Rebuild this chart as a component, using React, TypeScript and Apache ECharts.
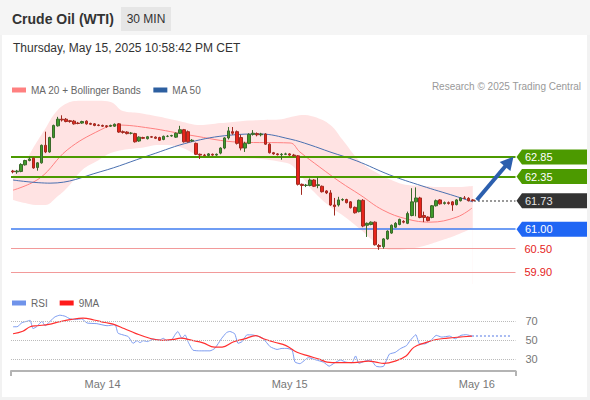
import React, { useEffect, useRef } from 'react';
import * as echarts from 'echarts';

const FONT = "'Liberation Sans', Arial, Helvetica, sans-serif";

// ---- texts ----
const chartTitle = 'Crude Oil (WTI)';
const timeframe = '30 MIN';
const timestamp = 'Thursday, May 15, 2025 10:58:42 PM CET';
const credit = 'Research \u00A9 2025 Trading Central';

// ---- x axis (30 min bars) ----
const categoryCount = 124;
const xTickLabels: Record<number, string> = { 22: 'May 14', 68: 'May 15', 114: 'May 16' };

// ---- candles: [open, close, low, high] ----
const candles: number[][] = [
  [62.49, 62.47, 62.43, 62.52], [62.47, 62.49, 62.42, 62.52], [62.48, 62.66, 62.46, 62.69], [62.65, 62.76, 62.63, 62.78],
  [62.76, 62.80, 62.74, 62.85], [62.82, 62.57, 62.55, 62.84], [62.58, 62.70, 62.50, 62.72], [62.70, 63.15, 62.68, 63.17],
  [63.15, 62.98, 62.95, 63.50], [62.98, 63.35, 62.96, 63.37], [63.35, 63.66, 63.33, 63.68], [63.65, 63.82, 63.63, 63.88],
  [63.82, 63.80, 63.76, 63.92], [63.82, 63.76, 63.74, 63.85], [63.78, 63.76, 63.73, 63.80], [63.77, 63.70, 63.68, 63.80],
  [63.72, 63.71, 63.69, 63.75], [63.72, 63.76, 63.70, 63.78], [63.77, 63.70, 63.68, 63.79], [63.71, 63.69, 63.67, 63.73],
  [63.70, 63.66, 63.64, 63.72], [63.67, 63.66, 63.64, 63.69], [63.66, 63.64, 63.62, 63.68], [63.65, 63.63, 63.60, 63.67],
  [63.64, 63.66, 63.62, 63.68], [63.64, 63.69, 63.62, 63.71], [63.70, 63.49, 63.47, 63.72], [63.50, 63.48, 63.45, 63.53],
  [63.49, 63.45, 63.43, 63.51], [63.46, 63.46, 63.43, 63.49], [63.45, 63.24, 63.22, 63.47], [63.26, 63.36, 63.24, 63.38],
  [63.35, 63.33, 63.31, 63.37], [63.32, 63.37, 63.30, 63.39], [63.37, 63.36, 63.34, 63.39], [63.36, 63.33, 63.31, 63.38],
  [63.35, 63.28, 63.26, 63.37], [63.30, 63.38, 63.28, 63.40], [63.38, 63.38, 63.36, 63.41], [63.39, 63.40, 63.37, 63.42],
  [63.36, 63.46, 63.34, 63.48], [63.46, 63.55, 63.44, 63.65], [63.55, 63.24, 63.22, 63.57], [63.50, 63.24, 63.22, 63.53],
  [63.26, 63.28, 63.24, 63.31], [63.20, 62.92, 62.90, 63.22], [62.92, 62.90, 62.80, 62.94], [62.90, 62.89, 62.87, 62.93],
  [62.89, 62.93, 62.87, 62.95], [62.92, 62.90, 62.88, 62.94], [62.90, 62.92, 62.88, 62.94], [62.95, 63.08, 62.92, 63.10],
  [63.08, 63.34, 63.05, 63.36], [63.34, 63.52, 63.30, 63.62], [63.50, 63.46, 63.42, 63.62], [63.50, 63.20, 63.17, 63.53],
  [63.35, 63.08, 63.02, 63.42], [63.08, 63.20, 62.98, 63.24], [63.20, 63.43, 63.18, 63.46], [63.43, 63.46, 63.40, 63.54],
  [63.45, 63.42, 63.38, 63.48], [63.42, 63.44, 63.38, 63.47], [63.44, 63.18, 63.16, 63.46], [63.18, 62.96, 62.94, 63.20],
  [62.96, 62.93, 62.91, 62.98], [62.93, 62.91, 62.89, 62.95], [62.91, 62.92, 62.78, 62.95], [62.92, 62.93, 62.90, 62.96],
  [62.93, 62.90, 62.88, 62.95], [62.90, 62.88, 62.85, 62.93], [62.88, 62.15, 62.12, 62.90], [62.15, 62.12, 61.88, 62.17],
  [62.12, 62.13, 62.08, 62.16], [62.12, 62.26, 62.10, 62.30], [62.26, 62.10, 62.08, 62.28], [62.12, 62.14, 62.05, 62.33],
  [62.10, 61.96, 61.94, 62.12], [61.98, 61.93, 61.90, 62.00], [61.93, 61.62, 61.60, 62.00], [61.62, 61.58, 61.35, 61.80],
  [61.62, 61.75, 61.58, 61.83], [61.75, 61.76, 61.72, 61.79], [61.76, 61.68, 61.66, 61.78], [61.70, 61.55, 61.53, 61.72],
  [61.56, 61.42, 61.40, 61.58], [61.45, 61.74, 61.43, 61.76], [61.74, 61.08, 61.05, 61.77], [61.10, 61.15, 60.80, 61.17],
  [61.12, 61.18, 61.10, 61.20], [61.18, 60.60, 60.58, 61.20], [60.58, 60.55, 60.47, 60.62], [60.55, 60.75, 60.50, 60.77],
  [60.75, 60.95, 60.73, 60.97], [60.90, 61.10, 60.88, 61.12], [61.05, 61.15, 61.03, 61.18], [61.12, 61.25, 61.10, 61.27],
  [61.20, 61.18, 61.15, 61.23], [61.15, 61.40, 61.13, 61.45], [61.35, 61.70, 61.33, 62.05], [61.70, 61.80, 61.33, 62.07],
  [61.80, 61.30, 61.28, 61.83], [61.35, 61.30, 61.18, 61.45], [61.31, 61.22, 61.20, 61.33], [61.30, 61.60, 61.28, 61.62],
  [61.60, 61.73, 61.58, 61.76], [61.75, 61.65, 61.63, 61.77], [61.66, 61.68, 61.63, 61.71], [61.68, 61.66, 61.63, 61.71],
  [61.70, 61.62, 61.47, 61.72], [61.63, 61.75, 61.61, 61.77], [61.73, 61.80, 61.71, 61.82], [61.80, 61.79, 61.77, 61.85],
  [61.79, 61.73, 61.71, 61.82], [61.75, 61.73, 61.71, 61.77],
];

// ---- overlays: [bar index, price] ----
const ma20: number[][] = [
  [0, 62.0], [6.6, 62.31], [13.3, 63.03], [21.4, 63.54], [25.6, 63.67], [33.7, 63.59], [43.5, 63.41],
  [55.8, 63.23], [68.1, 63.21], [70.5, 62.98], [75.4, 62.59], [80.4, 62.21], [85.3, 61.88], [90.9, 61.49],
  [96.8, 61.26], [102.5, 61.18], [109.1, 61.31], [112.8, 61.54],
];
const ma50: number[][] = [
  [0, 62.26], [9.1, 62.18], [21.4, 62.47], [33.7, 62.9], [43.5, 63.23], [53.3, 63.41], [60.7, 63.44],
  [68.1, 63.31], [73.0, 63.16], [77.9, 62.98], [84.5, 62.75], [92.6, 62.39], [100.5, 62.11], [108.6, 61.85], [113, 61.7],
];
const bbX = [0, 3, 5.5, 8, 10.5, 13.3, 17, 21, 24, 27, 31, 36, 41, 46, 51, 56, 61, 66, 68.5, 71, 74, 78, 81, 85, 89, 93, 97, 101, 105, 109, 113];
const bbUpper = [62.39, 62.75, 63.18, 63.59, 64.0, 64.23, 64.29, 64.29, 64.26, 64.03, 63.98, 63.88, 63.77, 63.67, 63.72, 63.77, 63.8, 63.82, 63.88, 63.93, 63.88, 63.67, 63.29, 62.77, 62.47, 62.26, 62.13, 62.11, 62.08, 62.08, 62.11];
const bbLower = [61.75, 61.67, 61.62, 61.62, 61.8, 62.06, 62.52, 62.77, 62.95, 63.03, 63.08, 63.16, 63.11, 62.88, 62.83, 62.82, 62.8, 62.72, 62.64, 62.34, 61.95, 61.57, 61.36, 61.03, 60.67, 60.47, 60.49, 60.57, 60.7, 60.85, 61.03];

// ---- key levels ----
const badgeLevels = [62.85, 62.35, 61.73, 61.0];
const badgeColors = ['#4c9a00', '#4c9a00', '#333333', '#1f66f4'];
const badgeTextColors = ['#ffffff', '#ffffff', '#e6e6e6', '#ffffff'];
const resistanceLines = [62.85, 62.35];
const supportLine = 61.0;
const redLevels = [60.5, 59.9];
const pivotLevel = 61.73;
const pivotFrom = 113.3;
const arrowPath = [114, 61.75, 123, 62.86];

// ---- RSI panel: [bar index, value] ----
const rsi: number[][] = [
  [0, 64], [1, 64], [2.2, 68.4], [3.4, 69.8], [4.2, 70.9], [4.9, 62], [5.9, 64.4], [7.1, 69.8], [7.9, 65],
  [9.1, 69.8], [10.3, 74.5], [11.5, 76.3], [12.8, 75.2], [14, 72.4], [15.2, 71.6], [16.9, 72.4], [18.2, 68],
  [20.6, 67.3], [23.1, 65.1], [25.1, 66.2], [25.8, 57.2], [28.3, 53.6], [29.5, 46.4], [30.5, 49.2], [31.2, 47.1],
  [32, 49.2], [33, 48.2], [34.4, 50.8], [36.1, 50], [36.9, 51.8], [37.8, 49.2], [39.1, 50.8], [39.8, 55.4],
  [40.5, 59], [41.5, 51.8], [42.3, 55.4], [43, 48.2], [44.2, 39.2], [45.9, 38.4], [48.4, 38.4], [49.6, 41],
  [51.3, 51.8], [52.5, 57.9], [53.3, 59], [54.5, 56.5], [55.3, 46.4], [56.3, 48.2], [57.5, 55.4], [58.7, 55.4],
  [59.9, 54.3], [61.4, 51.8], [63.2, 42.8], [64.9, 39.9], [66.1, 41], [67.3, 41], [68.6, 39.2], [69.3, 26.5],
  [70.5, 24.8], [72.6, 31.2], [74.5, 28.7], [76.3, 26.4], [77.7, 22.1], [79.1, 25.8], [80.5, 28.7], [81.8, 26.4],
  [83.3, 25.8], [84.2, 33], [85, 25.1], [86.5, 27.5], [87.9, 28.7], [89.2, 22.1], [90.2, 21.4], [91.1, 22.1],
  [92.5, 34.9], [93.9, 36.7], [95.3, 41], [96.7, 43.9], [97.6, 49.4], [99, 55.6], [99.9, 45.8], [101.2, 45.8],
  [102.7, 49.4], [104, 54.9], [105.4, 53], [107.3, 54.1], [108.7, 51.2], [110.1, 54.9], [111.4, 55.6], [112.8, 54.1],
];
const rsiMA: number[][] = [
  [0, 56.6], [2.4, 59.2], [4.2, 64], [6, 65.1], [8.8, 66.5], [11.5, 69.4], [14.4, 71.9], [17.2, 73.2], [19.9, 71.2],
  [22.6, 68.5], [24.6, 66.8], [27.3, 62.1], [30.1, 57], [33.8, 51.5], [36.6, 49.6], [39.3, 50.5], [41.2, 51.9],
  [44, 49.5], [46.7, 46.9], [49.5, 42.3], [51.4, 42.4], [54.1, 47.8], [56.9, 51.2], [59.7, 54.6], [61.4, 51.5],
  [64.3, 47.6], [67.1, 44], [69.8, 37], [72.6, 33], [75.4, 29.4], [77.2, 26.4], [80, 25.8], [83.7, 25.8],
  [87.4, 27.5], [89.2, 26.4], [91.1, 25.1], [93.9, 27.5], [96.6, 33], [98.5, 42.1], [101.2, 46.9], [104, 50.5],
  [106.8, 51.9], [109.6, 53], [112.8, 54.1],
];
const rsiLevels = [70, 50, 30];
const rsiProjection = [112.8, 122.6, 54.1];

export default function App() {
  const ref = useRef<HTMLDivElement>(null);

  useEffect(() => {
    document.body.style.margin = '0';
    const chart = echarts.init(ref.current!, undefined, { renderer: 'svg' });

    const categories = Array.from({ length: categoryCount }, (_, i) => xTickLabels[i] || String(i));
    const gridLeft = 11;
    const gridRight = 74.5;
    const xMin = -0.5;
    const xMax = categoryCount - 0.5;

    const option: any = {
      animation: false,
      backgroundColor: '#f2f2f2',
      textStyle: { fontFamily: FONT },
      graphic: [
        { type: 'rect', z: -10, shape: { x: 2, y: 35, width: 585, height: 362 }, style: { fill: '#ffffff' } },
        { type: 'rect', z: -10, shape: { x: 0, y: 0, width: 590, height: 35 }, style: { fill: '#f5f5f5' } },
        { type: 'rect', z: -9, shape: { x: 121, y: 7, width: 50, height: 24 }, style: { fill: '#e6e6e6' } },
        { type: 'text', x: 12, y: 19, style: { text: chartTitle, fill: '#333', font: `bold 14px ${FONT}`, align: 'left', verticalAlign: 'middle', textAlign: 'left', textVerticalAlign: 'middle' } },
        { type: 'text', x: 146, y: 19, style: { text: timeframe, fill: '#333', font: `12px ${FONT}`, align: 'center', verticalAlign: 'middle', textAlign: 'center', textVerticalAlign: 'middle' } },
        { type: 'text', x: 13, y: 48, style: { text: timestamp, fill: '#333', font: `12px ${FONT}`, align: 'left', verticalAlign: 'middle', textAlign: 'left', textVerticalAlign: 'middle' } },
        { type: 'text', x: 581, y: 86, style: { text: credit, fill: '#999', font: `10px ${FONT}`, align: 'right', verticalAlign: 'middle', textAlign: 'right', textVerticalAlign: 'middle' } },
      ],
      legend: [
        {
          data: ['MA 20 + Bollinger Bands', 'MA 50'], left: 7, top: 80, icon: 'rect', itemWidth: 14, itemHeight: 5,
          itemGap: 12, selectedMode: false, textStyle: { fontSize: 10, color: '#666', fontFamily: FONT },
        },
        {
          data: ['RSI', '9MA'], left: 7, top: 293, icon: 'rect', itemWidth: 14, itemHeight: 5,
          itemGap: 12, selectedMode: false, textStyle: { fontSize: 10, color: '#666', fontFamily: FONT },
        },
      ],
      grid: [
        { left: gridLeft, right: gridRight, top: 100, height: 184 },
        { left: gridLeft, right: gridRight, top: 307, height: 64 },
      ],
      xAxis: [
        { type: 'category', gridIndex: 0, data: categories, show: false },
        { type: 'value', gridIndex: 0, min: xMin, max: xMax, show: false },
        {
          type: 'category', gridIndex: 1, data: categories, boundaryGap: true,
          axisLine: { show: true, lineStyle: { color: '#b4b4b4', width: 2 } },
          axisTick: { show: true, interval: (i: number) => i === 0, length: 5, lineStyle: { color: '#b4b4b4', width: 2 } },
          axisLabel: {
            interval: (i: number) => xTickLabels[i] !== undefined,
            formatter: (v: string) => v, color: '#777', fontSize: 11, margin: 7, fontFamily: FONT,
          },
          splitLine: { show: false },
        },
        { type: 'value', gridIndex: 1, min: xMin, max: xMax, show: false },
      ],
      yAxis: [
        { type: 'value', gridIndex: 0, min: 59.594, max: 64.312, show: false },
        { type: 'value', gridIndex: 1, min: 17, max: 85, show: false },
      ],
      series: [
        {
          name: 'bbUpper', type: 'line', xAxisIndex: 1, yAxisIndex: 0, silent: true, z: 1,
          symbol: 'none', smooth: 0.4, lineStyle: { width: 0, opacity: 0 },
          areaStyle: { color: '#ffe3e3', opacity: 1, origin: 'start' },
          data: bbX.map((x, i) => [x, bbUpper[i]]),
        },
        {
          name: 'bbLower', type: 'line', xAxisIndex: 1, yAxisIndex: 0, silent: true, z: 1,
          symbol: 'none', smooth: 0.4, lineStyle: { width: 0, opacity: 0 },
          areaStyle: { color: '#ffffff', opacity: 1, origin: 'start' },
          data: bbX.map((x, i) => [x, bbLower[i]]),
        },
        {
          name: 'levels', type: 'line', xAxisIndex: 1, yAxisIndex: 0, z: 3, silent: true,
          symbol: 'none', data: [],
          markLine: {
            silent: true, symbol: ['none', 'none'], animation: false,
            data: [
              ...resistanceLines.map((v) => ({ yAxis: v, lineStyle: { color: '#4c9a00', width: 2, type: 'solid' }, label: { show: false } })),
              ...redLevels.map((v) => ({
                yAxis: v, lineStyle: { color: '#f29a9a', width: 1, type: 'solid' },
                label: { show: true, position: 'end', distance: 9, formatter: v.toFixed(2), color: '#e52222', fontSize: 11, fontFamily: FONT },
              })),
            ],
          },
        },
        {
          name: 'support', type: 'line', xAxisIndex: 1, yAxisIndex: 0, z: 3, silent: true,
          symbol: 'none', data: [], color: '#3f7cf0',
          markLine: {
            silent: true, symbol: ['none', 'none'], animation: false, label: { show: false },
            lineStyle: { color: '#3f7cf0', width: 1.5, type: 'solid', opacity: 1 },
            data: [{ yAxis: supportLine }],
          },
        },
        {
          name: 'MA 20 + Bollinger Bands', type: 'line', xAxisIndex: 1, yAxisIndex: 0, z: 4,
          symbol: 'none', smooth: 0.4, color: '#ff8080', lineStyle: { width: 1, color: '#ff8080' },
          data: ma20,
        },
        {
          name: 'MA 50', type: 'line', xAxisIndex: 1, yAxisIndex: 0, z: 4,
          symbol: 'none', smooth: 0.4, color: '#2d5fa0', lineStyle: { width: 1, color: '#4a70b0' },
          data: ma50,
          markLine: {
            silent: true, symbol: ['none', 'none'], label: { show: false },
            lineStyle: { color: '#999', type: 'dotted', width: 2 },
            data: [[{ coord: [pivotFrom, pivotLevel] }, { coord: [xMax, pivotLevel] }]],
          },
        },
        {
          name: 'price', type: 'candlestick', xAxisIndex: 0, yAxisIndex: 0, z: 5, barWidth: 3,
          itemStyle: { color: '#3f9a2b', color0: '#e8241b', borderColor: '#3a6a2a', borderColor0: '#a02a20', borderWidth: 1 },
          data: candles,
        },
        {
          name: 'badges', type: 'custom', xAxisIndex: 1, yAxisIndex: 0, z: 10, silent: true, clip: false,
          data: badgeLevels.map((v, i) => [xMax, v, i]),
          renderItem: (params: any, api: any) => {
            const pt = api.coord([api.value(0), api.value(1)]);
            const idx = api.value(2);
            const x0 = pt[0] + 1;
            const yc = pt[1];
            const h = 7.5;
            return {
              type: 'group',
              children: [
                {
                  type: 'polygon',
                  shape: { points: [[x0, yc], [x0 + 5.5, yc - h], [587, yc - h], [587, yc + h], [x0 + 5.5, yc + h]] },
                  style: { fill: badgeColors[idx] },
                },
                {
                  type: 'text', x: x0 + 8.5, y: yc,
                  style: { text: badgeLevels[idx].toFixed(2), fill: badgeTextColors[idx], font: `11px ${FONT}`, align: 'left', verticalAlign: 'middle', textAlign: 'left', textVerticalAlign: 'middle' },
                },
              ],
            };
          },
        },
        {
          name: 'arrow', type: 'custom', xAxisIndex: 1, yAxisIndex: 0, z: 11, silent: true, clip: false,
          data: [arrowPath],
          renderItem: (params: any, api: any) => {
            const a = api.coord([api.value(0), api.value(1)]);
            const b = api.coord([api.value(2), api.value(3)]);
            const dx = b[0] - a[0];
            const dy = b[1] - a[1];
            const len = Math.sqrt(dx * dx + dy * dy);
            const ux = dx / len;
            const uy = dy / len;
            const headLen = 13;
            const headW = 7;
            const bx = b[0] - ux * headLen;
            const by = b[1] - uy * headLen;
            return {
              type: 'group',
              children: [
                { type: 'line', shape: { x1: a[0], y1: a[1], x2: bx + ux * 2, y2: by + uy * 2 }, style: { stroke: '#2c5fae', lineWidth: 4 } },
                {
                  type: 'polygon',
                  shape: { points: [[b[0], b[1]], [bx - uy * headW, by + ux * headW], [bx + uy * headW, by - ux * headW]] },
                  style: { fill: '#2c5fae' },
                },
              ],
            };
          },
        },
        {
          name: 'RSI', type: 'line', xAxisIndex: 3, yAxisIndex: 1, z: 3,
          symbol: 'none', smooth: 0.15, color: '#6f93ea', lineStyle: { width: 1, color: '#7d9cf0' },
          data: rsi,
          markLine: {
            silent: true, symbol: ['none', 'none'], label: { show: false },
            lineStyle: { color: '#a9bbf2', type: 'dotted', width: 2 },
            data: [[{ coord: [rsiProjection[0], rsiProjection[2]] }, { coord: [rsiProjection[1], rsiProjection[2]] }]],
          },
        },
        {
          name: '9MA', type: 'line', xAxisIndex: 3, yAxisIndex: 1, z: 4,
          symbol: 'none', smooth: 0.4, color: '#ff1a1a', lineStyle: { width: 1.2, color: '#ff3030' },
          data: rsiMA,
          markLine: {
            silent: true, symbol: ['none', 'none'],
            lineStyle: { color: '#bbbbbb', type: 'dotted', width: 1 },
            label: { show: true, position: 'end', distance: 10, color: '#777', fontSize: 11, fontFamily: FONT, formatter: (p: any) => String(p.value) },
            data: rsiLevels.map((v) => ({ yAxis: v })),
          },
        },
      ],
    };

    chart.setOption(option);
    return () => chart.dispose();
  }, []);

  return <div ref={ref} style={{ width: 590, height: 400 }} />;
}
